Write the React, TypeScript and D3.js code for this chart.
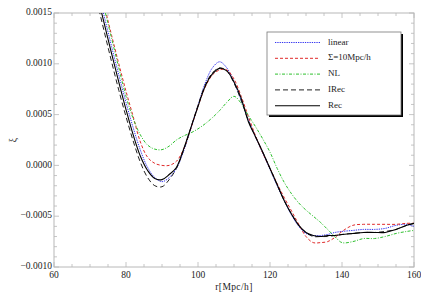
import React, { useRef, useEffect } from 'react';
import * as d3 from 'd3';

// r grid shared by all series
const rValues = [70, 72, 74, 76, 78, 80, 82, 84, 86, 88, 90, 92, 94, 96, 98, 100, 102, 104, 106, 108, 110, 112, 114, 116, 118, 120, 122, 124, 126, 128, 130, 132, 134, 136, 138, 140, 143, 146, 149, 152, 155, 158, 160];

const linearXi = [0.00203, 0.00175, 0.00146, 0.00117, 0.00089, 0.00062, 0.00037, 0.00015, -0.00002, -0.00012, -0.00016, -0.00012, -0.00003, 0.00014, 0.00036, 0.00059, 0.00081, 0.00096, 0.00102, 0.00096, 0.00082, 0.00064, 0.00045, 0.00028, 0.00012, -0.00004, -0.0002, -0.00035, -0.00049, -0.0006, -0.00067, -0.00069, -0.00069, -0.00068, -0.00066, -0.00065, -0.00064, -0.00063, -0.00063, -0.00062, -0.00059, -0.00058, -0.0006];

const sigmaXi = [0.00215, 0.00186, 0.00157, 0.00128, 0.001, 0.00073, 0.00048, 0.00023, 0.00008, 0.00002, 0.0, 0.0, 0.00004, 0.00016, 0.00036, 0.00058, 0.00077, 0.00089, 0.00094, 0.00094, 0.00085, 0.00068, 0.00048, 0.00029, 0.00012, -0.00003, -0.00018, -0.00032, -0.00045, -0.00058, -0.0007, -0.00076, -0.00076, -0.00075, -0.00071, -0.00065, -0.00059, -0.00058, -0.00058, -0.00058, -0.00058, -0.00057, -0.00057];

const nlXi = [0.0021, 0.00182, 0.00154, 0.00125, 0.00096, 0.00068, 0.00046, 0.0003, 0.0002, 0.00016, 0.000155, 0.00019, 0.00025, 0.00029, 0.00032, 0.00036, 0.00041, 0.00047, 0.00054, 0.00062, 0.00068, 0.00061, 0.00049, 0.00038, 0.00026, 0.00013, -0.00003, -0.00017, -0.00028, -0.00037, -0.00044, -0.0005, -0.00056, -0.00063, -0.0007, -0.00076, -0.00075, -0.00072, -0.00072, -0.0007, -0.00067, -0.00065, -0.00064];

const iRecXi = [0.00192, 0.00161, 0.00131, 0.00102, 0.00074, 0.00048, 0.00024, 0.00003, -0.00012, -0.0002, -0.00021, -0.00014, -0.00003, 0.00015, 0.00037, 0.00059, 0.00079, 0.00091, 0.00096, 0.00093, 0.00081, 0.00064, 0.00044, 0.00028, 0.00013, -0.00003, -0.00019, -0.00035, -0.00048, -0.00059, -0.00066, -0.0007, -0.0007, -0.0007, -0.00069, -0.00068, -0.00067, -0.00066, -0.00066, -0.00065, -0.00063, -0.00059, -0.00057];

const recXi = [0.00197, 0.00168, 0.00139, 0.0011, 0.00082, 0.00055, 0.0003, 0.00009, -0.00005, -0.00013, -0.00014, -0.00009, -0.00002, 0.00016, 0.00037, 0.00058, 0.00078, 0.0009, 0.000955, 0.00093, 0.00082, 0.00066, 0.00043, 0.00028, 0.00013, -0.00003, -0.00019, -0.00035, -0.00048, -0.00059, -0.00066, -0.00069, -0.0007, -0.00069, -0.00069, -0.00068, -0.00067, -0.00066, -0.00066, -0.00066, -0.00063, -0.00059, -0.00057];

const seriesNames = ['linear', 'Σ=10Mpc/h', 'NL', 'IRec', 'Rec'];

const xTicks = [60, 80, 100, 120, 140, 160];
const yTicks = [-0.001, -0.0005, 0, 0.0005, 0.001, 0.0015];
const yTickLabels = ['\u22120.0010', '\u22120.0005', '0.0000', '0.0005', '0.0010', '0.0015'];

const styles = [
  { color: '#3434f0', dash: '1.3,1', width: 1 },
  { color: '#e02a2a', dash: '3,2', width: 1 },
  { color: '#2ec02e', dash: '3,1.5,1,1.5', width: 1 },
  { color: '#222', dash: '5,3', width: 1 },
  { color: '#000', dash: null, width: 1.1 },
];

const App: React.FC = () => {
  const svgRef = useRef<SVGSVGElement>(null);
  const width = 421;
  const height = 300;

  useEffect(() => {
    if (!svgRef.current) return;
    const svg = d3.select(svgRef.current);
    svg.selectAll('*').remove();

    const margin = { top: 13, right: 7, bottom: 33, left: 54 };
    const x = d3.scaleLinear().domain([60, 160]).range([margin.left, width - margin.right]);
    const y = d3.scaleLinear().domain([-0.001, 0.0015]).range([height - margin.bottom, margin.top]);
    const [x0, x1] = x.range();
    const [y0, y1] = y.range();
    const font = '"Liberation Serif", "DejaVu Serif", serif';
    const frameColor = '#b8b8b8';

    svg.append('defs')
      .append('clipPath')
      .attr('id', 'plot-clip')
      .append('rect')
      .attr('x', x0)
      .attr('y', y1)
      .attr('width', x1 - x0)
      .attr('height', y0 - y1);

    // frame
    svg.append('rect')
      .attr('x', x0)
      .attr('y', y1)
      .attr('width', x1 - x0)
      .attr('height', y0 - y1)
      .attr('fill', 'none')
      .attr('stroke', frameColor)
      .attr('stroke-width', 1);

    // x ticks (major + minor), bottom and top
    const xMinor = d3.range(60, 160.01, 5);
    xMinor.forEach((v) => {
      const len = v % 20 === 0 ? 5 : 3;
      svg.append('line').attr('x1', x(v)).attr('x2', x(v)).attr('y1', y0).attr('y2', y0 - len)
        .attr('stroke', frameColor).attr('stroke-width', 0.8);
      svg.append('line').attr('x1', x(v)).attr('x2', x(v)).attr('y1', y1).attr('y2', y1 + len)
        .attr('stroke', frameColor).attr('stroke-width', 0.8);
    });
    // y ticks, left and right
    const yMinor = d3.range(-10, 15.01, 1).map((k) => k * 0.0001);
    yMinor.forEach((v, i) => {
      const len = i % 5 === 0 ? 5 : 3;
      svg.append('line').attr('x1', x0).attr('x2', x0 + len).attr('y1', y(v)).attr('y2', y(v))
        .attr('stroke', frameColor).attr('stroke-width', 0.8);
      svg.append('line').attr('x1', x1).attr('x2', x1 - len).attr('y1', y(v)).attr('y2', y(v))
        .attr('stroke', frameColor).attr('stroke-width', 0.8);
    });

    // tick labels
    svg.selectAll('.x-label')
      .data(xTicks)
      .enter()
      .append('text')
      .attr('x', (d) => x(d))
      .attr('y', y0 + 11)
      .attr('text-anchor', 'middle')
      .attr('font-family', font)
      .attr('font-size', '9.5px')
      .attr('fill', '#222')
      .text((d) => d);

    svg.selectAll('.y-label')
      .data(yTicks)
      .enter()
      .append('text')
      .attr('x', x0 - 2)
      .attr('y', (d) => y(d))
      .attr('text-anchor', 'end')
      .attr('dominant-baseline', 'middle')
      .attr('font-family', font)
      .attr('font-size', '9.5px')
      .attr('fill', '#222')
      .text((d, i) => yTickLabels[i]);

    // axis titles
    svg.append('text')
      .attr('x', (x0 + x1) / 2)
      .attr('y', 290)
      .attr('text-anchor', 'middle')
      .attr('font-family', font)
      .attr('font-size', '9.5px')
      .attr('letter-spacing', '0.4px')
      .attr('fill', '#222')
      .text('r[Mpc/h]');

    svg.append('text')
      .attr('transform', `translate(16, 140) rotate(-90)`)
      .attr('text-anchor', 'middle')
      .attr('font-family', font)
      .attr('font-size', '9.5px')
      .attr('fill', '#222')
      .text('ξ');

    // curves
    const allSeries = [linearXi, sigmaXi, nlXi, iRecXi, recXi];
    const line = d3.line<number>()
      .x((d, i) => x(rValues[i]))
      .y((d) => y(d))
      .curve(d3.curveCatmullRom.alpha(0.5));

    const plot = svg.append('g').attr('clip-path', 'url(#plot-clip)');
    allSeries.forEach((vals, si) => {
      const st = styles[si];
      const p = plot.append('path')
        .attr('d', line(vals))
        .attr('fill', 'none')
        .attr('stroke', st.color)
        .attr('stroke-width', st.width);
      if (st.dash) p.attr('stroke-dasharray', st.dash);
    });

    // legend with drop shadow
    const lx = 267;
    const ly = 32;
    const lw = 134;
    const lh = 83;
    svg.append('rect')
      .attr('x', lx + 2)
      .attr('y', ly + 2)
      .attr('width', lw)
      .attr('height', lh)
      .attr('fill', '#000');
    svg.append('rect')
      .attr('x', lx)
      .attr('y', ly)
      .attr('width', lw)
      .attr('height', lh)
      .attr('fill', '#fff')
      .attr('stroke', '#777')
      .attr('stroke-width', 0.8);

    seriesNames.forEach((name, i) => {
      const st = styles[i];
      const yy = ly + 10.5 + i * 15.8;
      const l = svg.append('line')
        .attr('x1', lx + 8)
        .attr('x2', lx + 53)
        .attr('y1', yy)
        .attr('y2', yy)
        .attr('stroke', st.color)
        .attr('stroke-width', st.width);
      if (st.dash) l.attr('stroke-dasharray', st.dash);
      svg.append('text')
        .attr('x', lx + 61)
        .attr('y', yy)
        .attr('dominant-baseline', 'middle')
        .attr('font-family', font)
        .attr('font-size', '9px')
        .attr('fill', '#222')
        .text(name);
    });
  }, []);

  return (
    <svg
      ref={svgRef}
      width={width}
      height={height}
      style={{ position: 'absolute', left: 0, top: 0, background: '#fff' }}
    />
  );
};

export default App;
